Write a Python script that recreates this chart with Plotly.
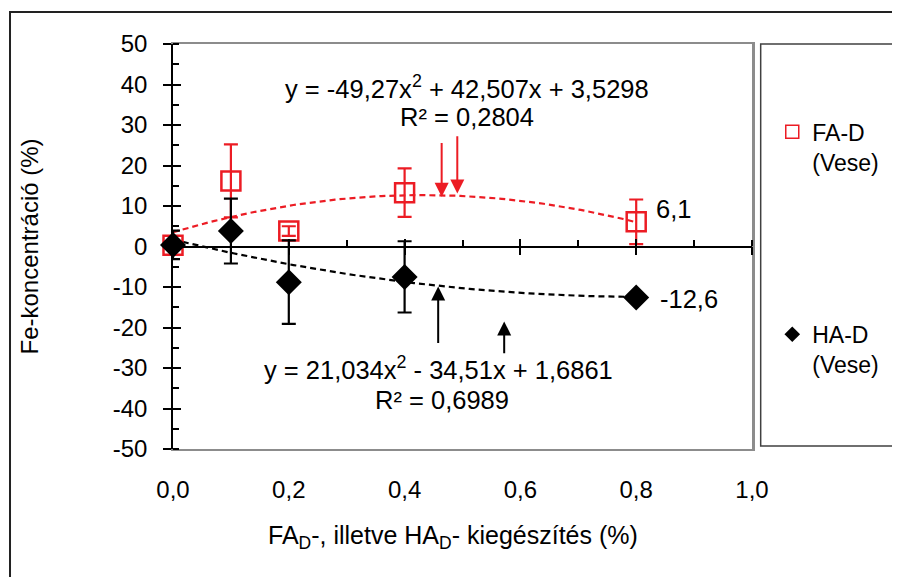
import numpy as np
import plotly.graph_objects as go

# ---- data ----
x_vals = [0.0, 0.1, 0.2, 0.4, 0.8]
fa_y = [0.3, 16.2, 3.8, 13.3, 6.1]
fa_err = [1.0, 9.0, 1.2, 6.0, 5.5]
ha_y = [0.4, 3.8, -8.8, -7.5, -12.6]
ha_err = [3.5, 8.0, 10.3, 8.8, 0.0]

# trendline coefficients (as printed on the chart): a*x^2 + b*x + c
fa_coef = [-49.27, 42.507, 3.5298]
ha_coef = [21.034, -34.51, 1.6861]
fa_eq = ["y = -49,27x<sup>2</sup> + 42,507x + 3,5298", "R² = 0,2804"]
ha_eq = ["y = 21,034x<sup>2</sup> - 34,51x + 1,6861", "R² = 0,6989"]
fa_label = "6,1"
ha_label = "-12,6"

x_ticks = [0.0, 0.2, 0.4, 0.6, 0.8, 1.0]
x_ticktext = ["0,0", "0,2", "0,4", "0,6", "0,8", "1,0"]
y_ticks = list(range(-50, 51, 10))
y_ticktext = [str(v) for v in y_ticks]  # plain hyphen minus as in the reference

RED = "#ec1c24"
FONT = "Liberation Sans, Arial, sans-serif"

xfit = np.linspace(0, max(x_vals), 101)
fa_fit = np.polyval(fa_coef, xfit)
ha_fit = np.polyval(ha_coef, xfit)

fig = go.Figure()

# trendlines
fig.add_trace(go.Scatter(x=xfit, y=fa_fit, mode="lines", showlegend=False,
                         line=dict(color=RED, width=2.2, dash="6px,4px"), hoverinfo="skip"))
fig.add_trace(go.Scatter(x=xfit, y=ha_fit, mode="lines", showlegend=False,
                         line=dict(color="black", width=2.2, dash="6px,4px"), hoverinfo="skip"))

# FA-D points
fig.add_trace(go.Scatter(x=x_vals, y=fa_y, mode="markers", showlegend=False, cliponaxis=False,
                         marker=dict(symbol="square-open", size=19, color=RED, line=dict(width=2.5, color=RED)),
                         error_y=dict(type="data", array=fa_err, color=RED, thickness=2.2, width=7)))
# HA-D points
fig.add_trace(go.Scatter(x=x_vals, y=ha_y, mode="markers", showlegend=False, cliponaxis=False,
                         marker=dict(symbol="diamond", size=20, color="black"),
                         error_y=dict(type="data", array=ha_err, color="black", thickness=2.2, width=7)))

# legend entries
fig.add_trace(go.Scatter(x=[None], y=[None], mode="markers", name="FA-D<br>(Vese)", legend="legend",
                         marker=dict(symbol="square-open", size=13, color=RED, line=dict(width=1.5, color=RED))))
fig.add_trace(go.Scatter(x=[None], y=[None], mode="markers", name="HA-D<br>(Vese)", legend="legend2",
                         marker=dict(symbol="diamond", size=12, color="black")))

EQ_SIZE = 25.5
annotations = []
# equations
annotations.append(dict(x=0.508, y=39.3, xref="x", yref="y", text=fa_eq[0], showarrow=False,
                        xanchor="center", yanchor="middle", font=dict(size=EQ_SIZE)))
annotations.append(dict(x=0.508, y=32.0, xref="x", yref="y", text=fa_eq[1], showarrow=False,
                        xanchor="center", yanchor="middle", font=dict(size=EQ_SIZE)))
annotations.append(dict(x=0.458, y=-29.9, xref="x", yref="y", text=ha_eq[0], showarrow=False,
                        xanchor="center", yanchor="middle", font=dict(size=EQ_SIZE)))
annotations.append(dict(x=0.465, y=-37.8, xref="x", yref="y", text=ha_eq[1], showarrow=False,
                        xanchor="center", yanchor="middle", font=dict(size=EQ_SIZE)))
# data labels for last points
annotations.append(dict(x=x_vals[-1], y=fa_y[-1], xref="x", yref="y", text=fa_label, showarrow=False,
                        xanchor="left", yanchor="middle", xshift=18, yshift=13, font=dict(size=EQ_SIZE)))
annotations.append(dict(x=x_vals[-1], y=ha_y[-1], xref="x", yref="y", text=ha_label, showarrow=False,
                        xanchor="left", yanchor="middle", xshift=22, yshift=-1, font=dict(size=EQ_SIZE)))
# arrows
for (xa, yt, yb, col) in [(0.464, 12.3, 25.9, RED), (0.491, 13.1, 27.6, RED),
                          (0.458, -9.9, -24.2, "black"), (0.572, -18.5, -26.7, "black")]:
    annotations.append(dict(x=xa, y=yt, ax=xa, ay=yb, xref="x", yref="y", axref="x", ayref="y",
                            text="", showarrow=True, arrowhead=2, arrowsize=1.4, arrowwidth=2,
                            arrowcolor=col))
# axis titles
annotations.append(dict(x=-0.247, y=0.5, xref="paper", yref="paper", text="Fe-koncentráció (%)",
                        xanchor="center", yanchor="middle",
                        textangle=-90, showarrow=False, font=dict(size=24)))
annotations.append(dict(x=0.4836, y=-0.217, xref="paper", yref="paper",
                        xanchor="center", yanchor="middle",
                        text="FA<sub>D</sub>-, illetve HA<sub>D</sub>- kiegészítés (%)",
                        showarrow=False, font=dict(size=25)))

shapes = [
    # legend box
    dict(type="rect", xref="paper", yref="paper", x0=1.015, x1=1.4, y0=0.0074, y1=1.0,
         line=dict(color="#404040", width=1.5)),
    # outer frame
    dict(type="rect", xref="paper", yref="paper", x0=-0.2815, x1=1.45, y0=-0.40, y1=1.079,
         line=dict(color="#222222", width=2)),
]

# the page body has an 8px margin: the figure is offset by 8px right and down
fig.update_layout(
    width=892, height=569,
    margin=dict(l=165, r=148, t=36, b=128, autoexpand=False),
    paper_bgcolor="white", plot_bgcolor="white",
    font=dict(family=FONT, size=24, color="black"),
    annotations=annotations, shapes=shapes,
    xaxis=dict(range=[0, 1], tickvals=x_ticks, ticktext=x_ticktext, showgrid=False, zeroline=False,
               showline=True, linecolor="#8c8c8c", linewidth=2, mirror=True, ticks="",
               ticklabelstandoff=18, tickfont=dict(size=24)),
    xaxis2=dict(range=[0, 1], overlaying="x", anchor="free", position=0.5, side="bottom",
                showgrid=False, zeroline=False, showticklabels=False,
                showline=True, linecolor="black", linewidth=1.5,
                tickvals=x_ticks, ticks="outside", ticklen=8, tickwidth=1.5, tickcolor="black",
                minor=dict(dtick=0.1, tick0=0, ticks="inside", ticklen=6, tickwidth=1.5, tickcolor="black")),
    xaxis3=dict(range=[0, 1], overlaying="x", anchor="free", position=0.5, side="bottom",
                showgrid=False, zeroline=False, showticklabels=False, showline=False,
                tickvals=x_ticks, ticks="inside", ticklen=8, tickwidth=1.5, tickcolor="black"),
    yaxis=dict(range=[-50, 50], tickvals=y_ticks, ticktext=y_ticktext, showgrid=False, zeroline=False,
               showline=True, linecolor="black", linewidth=1.5,
               ticks="outside", ticklen=8, tickwidth=1.5, tickcolor="black",
               minor=dict(dtick=5, tick0=0, ticks="inside", ticklen=6, tickwidth=1.5, tickcolor="black"),
               ticklabelstandoff=11, tickfont=dict(size=24)),
    yaxis2=dict(range=[-50, 50], overlaying="y", anchor="x", side="left", showgrid=False,
                zeroline=False, showticklabels=False, showline=False,
                tickvals=y_ticks, ticks="inside", ticklen=8, tickwidth=1.5, tickcolor="black"),
    yaxis3=dict(range=[-50, 50], overlaying="y", anchor="x", side="right", showgrid=False,
                zeroline=False, showticklabels=False, showline=True, linecolor="#8c8c8c",
                linewidth=2.5, ticks=""),
    legend=dict(x=1.035, y=0.746, xanchor="left", yanchor="middle", font=dict(size=23),
                bgcolor="rgba(0,0,0,0)", borderwidth=0, valign="top"),
    legend2=dict(x=1.035, y=0.246, xanchor="left", yanchor="middle", font=dict(size=23),
                 bgcolor="rgba(0,0,0,0)", borderwidth=0, valign="top"),
)

# make overlay axes exist by attaching invisible traces
fig.add_trace(go.Scatter(x=[None], y=[None], xaxis="x2", yaxis="y", showlegend=False))
fig.add_trace(go.Scatter(x=[None], y=[None], xaxis="x3", yaxis="y2", showlegend=False))
fig.add_trace(go.Scatter(x=[None], y=[None], xaxis="x", yaxis="y3", showlegend=False))

fig.write_html("out.html")
